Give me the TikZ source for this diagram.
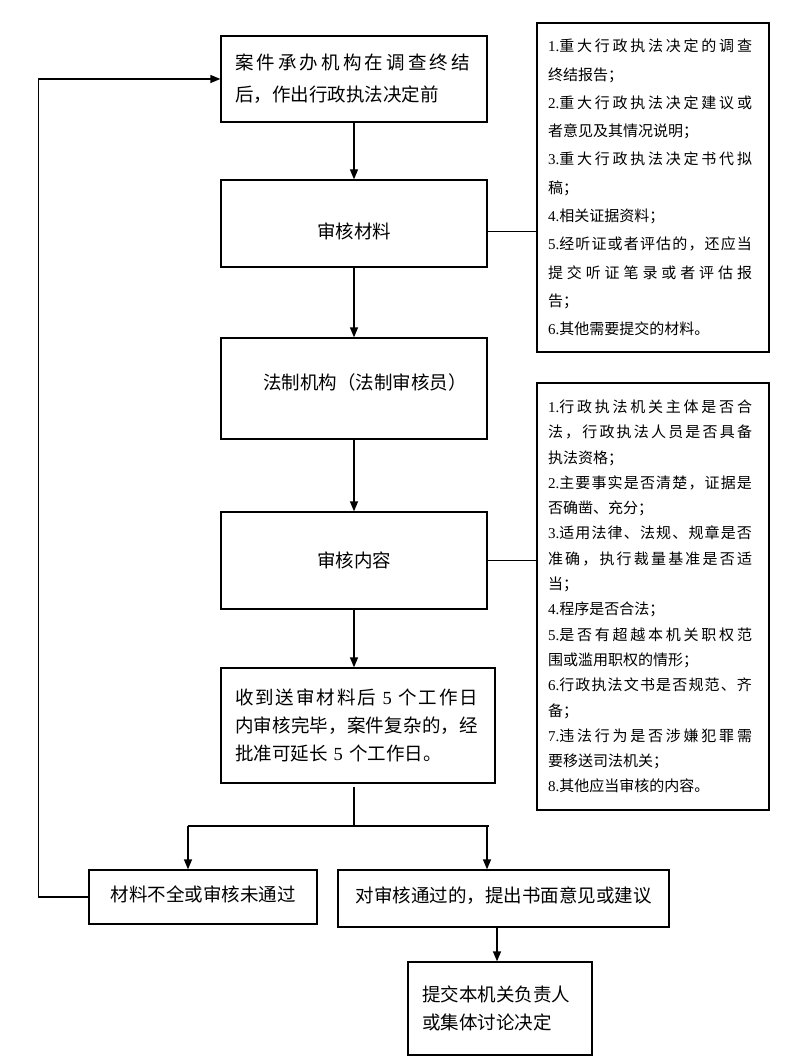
\documentclass[tikz,border=0pt]{standalone}
\usepackage{fontspec}
\setmainfont{Liberation Serif}
\newfontfamily\cjk{Noto Sans CJK SC}
\usetikzlibrary{arrows.meta}
\newcount\cjkcc
\cjkcc="4E00
\loop\ifnum\cjkcc<"A000 \XeTeXcharclass\cjkcc=1 \advance\cjkcc by 1 \repeat
\XeTeXcharclass"FF0C=1 \XeTeXcharclass"FF1B=1 \XeTeXcharclass"3001=1 \XeTeXcharclass"3002=1
\newcommand\jl[2]{\leavevmode\hbox to #1{\XeTeXinterchartokenstate=1
  \XeTeXinterchartoks 1 1 = {\hskip 0pt plus 1fil\relax}%
  #2}}
\newcommand\dg[1]{{\rmfamily #1}}
\tikzset{
  box/.style={draw, line width=1.3pt, inner xsep=14pt, inner ysep=0pt, font=\cjk\fontsize{18.5}{28}\selectfont},
  rbox/.style={draw, line width=1.3pt, align=left, text width=210pt, inner xsep=11pt, inner ysep=0pt, minimum width=232pt},
  arr/.style={line width=1.3pt, -{Triangle[width=8pt,length=10pt]}},
  ln/.style={line width=1.2pt}
}
\begin{document}
\begin{tikzpicture}[x=1pt,y=-1pt]
\useasboundingbox[fill=white] (0,0) rectangle (800,1059);

\node[box, minimum width=266pt, minimum height=86pt, text width=238pt, align=left, font=\cjk\fontsize{18.5}{32}\selectfont] (b1) at (354,79)
  {\jl{235pt}{案件承办机构在调查终结}\\后，作出行政执法决定前};
\node[box, minimum width=266pt, minimum height=87pt, text height=30pt, text depth=0pt] (b2) at (354,223.5) {审核材料};
\node[box, minimum width=266pt, minimum height=101pt, text height=10pt, text depth=8pt] (b3) at (354,388.5) {\hspace*{22pt}法制机构（法制审核员）};
\node[box, minimum width=266pt, minimum height=97pt] (b4) at (354,560.5) {审核内容};
\node[box, minimum width=274pt, minimum height=115pt, text width=246pt, align=left] (b5) at (358,725.5)
  {\jl{243pt}{收到送审材料后 \dg{5} 个工作日}\\\jl{243pt}{内审核完毕，案件复杂的，经}\\批准可延长 \dg{5} 个工作日。};
\node[box, minimum width=228pt, minimum height=54pt, text height=14pt, text depth=6pt] (b6) at (203,897) {材料不全或审核未通过};
\node[box, minimum width=331pt, minimum height=57pt, text height=14pt, text depth=6pt] (b7) at (503.5,898.5) {对审核通过的，提出书面意见或建议};
\node[box, minimum width=184pt, minimum height=93pt, text width=156pt, align=left] (b8) at (500,1008.5)
  {提交本机关负责人\\或集体讨论决定};

\node[rbox, minimum height=329pt, font=\cjk\fontsize{15}{28.3}\selectfont] (r1) at (653,187.5)
  {\jl{204pt}{\dg{1.}重大行政执法决定的调查}\\
   终结报告；\\
   \jl{204pt}{\dg{2.}重大行政执法决定建议或}\\
   者意见及其情况说明；\\
   \jl{204pt}{\dg{3.}重大行政执法决定书代拟}\\
   稿；\\
   \dg{4.}相关证据资料；\\
   \jl{204pt}{\dg{5.}经听证或者评估的，还应当}\\
   \jl{204pt}{提交听证笔录或者评估报}\\
   告；\\
   \dg{6.}其他需要提交的材料。};

\node[rbox, minimum height=427pt, font=\cjk\fontsize{15}{25.3}\selectfont] (r2) at (653,596.5)
  {\jl{204pt}{\dg{1.}行政执法机关主体是否合}\\
   \jl{204pt}{法，行政执法人员是否具备}\\
   执法资格；\\
   \jl{204pt}{\dg{2.}主要事实是否清楚，证据是}\\
   否确凿、充分；\\
   \jl{204pt}{\dg{3.}适用法律、法规、规章是否}\\
   \jl{204pt}{准确，执行裁量基准是否适}\\
   当；\\
   \dg{4.}程序是否合法；\\
   \jl{204pt}{\dg{5.}是否有超越本机关职权范}\\
   围或滥用职权的情形；\\
   \jl{204pt}{\dg{6.}行政执法文书是否规范、齐}\\
   备；\\
   \jl{204pt}{\dg{7.}违法行为是否涉嫌犯罪需}\\
   要移送司法机关；\\
   \dg{8.}其他应当审核的内容。};

\draw[arr] (b1.south) -- (b2.north);
\draw[ln] ([yshift=-8pt]b2.east) -- ([yshift=-8pt]b2.east -| r1.west);
\draw[arr] (b2.south) -- (b3.north);
\draw[arr] (b3.south) -- (b4.north);
\draw[ln] (b4.east) -- (b4.east -| r2.west);
\draw[arr] (b4.south) -- (b4.south |- b5.north);

\coordinate (s) at (354,787);
\coordinate (j) at (354,826);
\coordinate (jl) at (188,826);
\coordinate (jr) at (489,826);
\coordinate (jr2) at (487,826);
\draw[ln] (s) -- (j);
\draw[ln] (jl) -- (jr);
\draw[arr] (jl) -- (jl |- b6.north);
\draw[arr] (jr2) -- (jr2 |- b7.north);
\draw[arr] ([xshift=-6.5pt]b7.south) -- ([xshift=-6.5pt]b7.south |- b8.north);
\draw[arr] (b6.west) -- ++(-50,0) |- (b1.west);
\end{tikzpicture}
\end{document}
